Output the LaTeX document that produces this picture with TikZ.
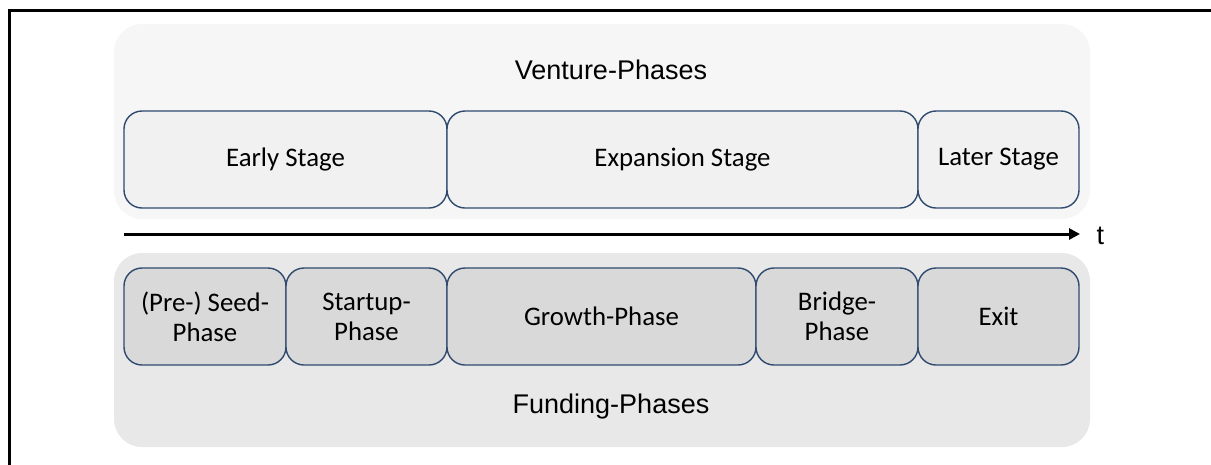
\documentclass[tikz,border=0pt]{standalone}
\usepackage{fontspec}
\setmainfont{Carlito}
\newfontfamily\arialfont{Liberation Sans}
\usepackage{tikz}
\usetikzlibrary{positioning,arrows.meta}
\definecolor{boxline}{HTML}{2F4A6E}
\definecolor{ventpanel}{HTML}{F6F6F6}
\definecolor{ventbox}{HTML}{F1F1F1}
\definecolor{fundpanel}{HTML}{E8E8E8}
\definecolor{fundbox}{HTML}{D9D9D9}

\begin{document}
\begin{tikzpicture}[x=1pt,y=-1pt,
    panel/.style={rounded corners=28pt},
    phase/.style={draw=boxline, line width=1.4pt, rounded corners=18pt,
      minimum height=97pt, inner sep=0pt, outer sep=0pt, align=center,
      font=\fontsize{26.8}{30}\selectfont},
    vbox/.style={phase, fill=ventbox},
    fbox/.style={phase, fill=fundbox},
    heading/.style={font=\arialfont\fontsize{27}{30}\selectfont}]
    \useasboundingbox (0,0) rectangle (1211,464);
    \draw[line width=3pt] (9.5,470) -- (9.5,10) -- (1220,10);
    % panels
    \fill[ventpanel, panel] (114,24) rectangle (1090,219);
    \fill[fundpanel, panel] (114,253) rectangle (1090,447);
    \node[heading] (venture) at (611,70) {Venture-Phases};
    \node[heading] (funding) at (611,407) {Funding-Phases};
    % venture stages
    \node[vbox, minimum width=323pt, anchor=west] (early) at (124,159.5) {Early Stage};
    \node[vbox, minimum width=471pt, right=0pt of early] (expansion) {Expansion Stage};
    \node[vbox, minimum width=161pt, right=0pt of expansion] (later) {Later Stage};
    % time axis
    \coordinate (t0) at (124,234);
    \coordinate (t1) at (1080,234);
    \draw[line width=3pt, -{Triangle[length=11pt,width=11pt]}] (t0) -- (t1);
    \node[heading, anchor=west] (time) at (1093,236) {t};
    % funding phases
    \node[fbox, minimum width=162pt, anchor=west] (seed) at (124,316.5) {(Pre-) Seed-\\Phase};
    \node[fbox, minimum width=161pt, right=0pt of seed] (startup) {Startup-\\Phase};
    \node[fbox, minimum width=309pt, right=0pt of startup] (growth) {Growth-Phase};
    \node[fbox, minimum width=162pt, right=0pt of growth] (bridge) {Bridge-\\Phase};
    \node[fbox, minimum width=161pt, right=0pt of bridge] (exit) {Exit};
\end{tikzpicture}
\end{document}
